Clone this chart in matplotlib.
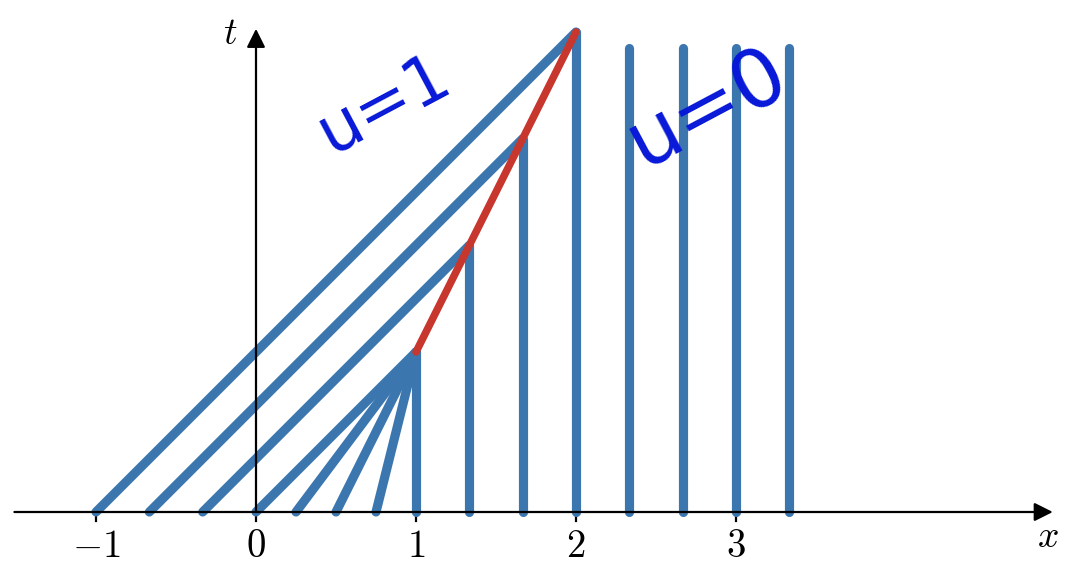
import matplotlib
matplotlib.use("Agg")
import matplotlib.pyplot as plt

plt.rcParams['mathtext.fontset'] = 'cm'

# Characteristics data
left_x0 = [-1.0, -2/3, -1/3, 0.0]          # slope-1 characteristics (u=1) starting points
left_t_end = [3.0, 7/3, 5/3, 1.0]          # end time (meet shock)
fan_x0 = [0.25, 0.5, 0.75]                 # compressive fan, converging to (1,1)
fan_end = (1.0, 1.0)
right_x0 = [1.0, 4/3, 5/3, 2.0, 7/3, 8/3, 3.0, 10/3]   # vertical characteristics (u=0)
right_t_end = [1.0, 5/3, 7/3, 3.0, 2.9, 2.9, 2.9, 2.9]
shock_x = [1.0, 2.0]
shock_t = [1.0, 3.0]
tick_vals = [-1, 0, 1, 2, 3]
tick_labels = [r'$-1$', r'$0$', r'$1$', r'$2$', r'$3$']

blue = '#3b76af'
red = '#c8372d'
hand = '#0818d8'

fig = plt.figure(figsize=(10.79, 5.80), dpi=100)
ax = fig.add_axes([0, 0, 1, 1])
ax.set_xlim(-1.6, 5.14375)
ax.set_ylim(-0.425, 3.2)
ax.axis('off')

# axes with arrows
ax.annotate('', xy=(4.98, 0), xytext=(-1.51, 0),
            arrowprops=dict(arrowstyle='-|>', lw=1.6, color='k', mutation_scale=28,
                            shrinkA=0, shrinkB=0))
ax.annotate('', xy=(0, 3.02), xytext=(0, 0),
            arrowprops=dict(arrowstyle='-|>', lw=1.6, color='k', mutation_scale=28,
                            shrinkA=0, shrinkB=0))
for v, lab in zip(tick_vals, tick_labels):
    ax.plot([v, v], [0, -0.055], color='k', lw=1.6)
    ax.text(v, -0.21, lab, ha='center', va='center', fontsize=28)
ax.text(4.95, -0.155, r'$x$', ha='center', va='center', fontsize=27)
ax.text(-0.16, 2.99, r'$t$', ha='center', va='center', fontsize=27)

lw = 6.6
for x0, te in zip(left_x0, left_t_end):
    ax.plot([x0, x0 + te], [0, te], color=blue, lw=lw, solid_capstyle='round')
for x0 in fan_x0:
    ax.plot([x0, fan_end[0]], [0, fan_end[1]], color=blue, lw=lw, solid_capstyle='round')
for x0, te in zip(right_x0, right_t_end):
    ax.plot([x0, x0], [0, te], color=blue, lw=lw, solid_capstyle='round')
ax.plot(shock_x, shock_t, color=red, lw=5.4, solid_capstyle='round')

# handwritten annotations
ax.text(0.80, 2.55, 'u=1', color=hand, fontsize=48, rotation=28,
        ha='center', va='center', family='DejaVu Sans')
ax.text(2.82, 2.52, 'u=0', color=hand, fontsize=58, rotation=28,
        ha='center', va='center', family='DejaVu Sans')

fig.savefig('out.png', dpi=100)
